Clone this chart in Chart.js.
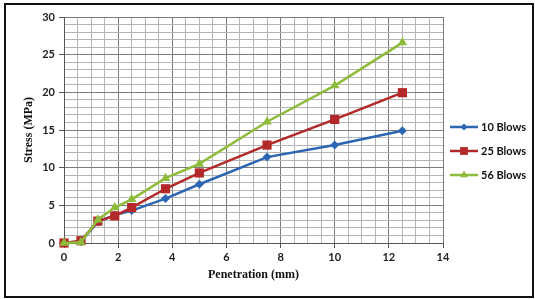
<!DOCTYPE html>
<html>
<head>
<meta charset="utf-8">
<script src="https://cdn.jsdelivr.net/npm/chart.js@4/dist/chart.umd.min.js"></script>
<style>
html,body{margin:0;padding:0;background:#fff;}
#wrap{position:relative;width:535px;height:299px;}
canvas{position:absolute;left:0;top:0;}
</style>
</head>
<body>
<div id="wrap"><canvas id="c" width="535" height="299"></canvas></div>
<script>
// Data
const penetration = [0, 0.625, 1.25, 1.875, 2.5, 3.75, 5, 7.5, 10, 12.5];
const blows10 = [0, 0.2, 2.8, 3.7, 4.3, 5.9, 7.8, 11.4, 13.0, 14.9];
const blows25 = [0, 0.3, 2.9, 3.6, 4.7, 7.2, 9.3, 13.0, 16.4, 19.95];
const blows56 = [0, 0.1, 3.1, 4.7, 5.8, 8.6, 10.5, 16.1, 20.9, 26.6];
const seriesNames = ['10 Blows', '25 Blows', '56 Blows'];
const xTitle = 'Penetration (mm)';
const yTitle = 'Stress (MPa)';

const colors = ['#2c66b3', '#b32828', '#8dbb3a'];
const styles = ['rectRot', 'rect', 'triangle'];
const radii = [4.5, 6.5, 5.5];

function pts(ys){ return penetration.map((x,i)=>({x:x,y:ys[i]})); }

const datasets = [blows10, blows25, blows56].map((ys,i)=>({
  label: seriesNames[i],
  data: pts(ys),
  borderColor: colors[i],
  backgroundColor: colors[i],
  borderWidth: 2.5,
  pointStyle: styles[i],
  pointRadius: radii[i],
  pointBorderWidth: 0,
  pointBackgroundColor: colors[i],
  tension: 0,
  clip: false,
  order: 2 - i
}));

const frame = {
  id: 'frame',
  beforeDraw(chart){
    const ctx = chart.ctx;
    ctx.save();
    ctx.fillStyle = '#fff';
    ctx.fillRect(0,0,chart.width,chart.height);
    ctx.restore();
  },
  afterDraw(chart){
    const ctx = chart.ctx;
    ctx.save();
    ctx.strokeStyle = '#111';
    ctx.lineWidth = 2;
    ctx.strokeRect(5, 4, 528, 293);
    // legend
    const items = chart.data.datasets;
    const ys = [127, 151, 175];
    const lradii = [3.5, 5.5, 4.5];
    items.forEach((ds,i)=>{
      const y = ys[i];
      ctx.strokeStyle = ds.borderColor;
      ctx.lineWidth = 2.5;
      ctx.beginPath();
      ctx.moveTo(450, y); ctx.lineTo(478, y);
      ctx.stroke();
      ctx.fillStyle = ds.backgroundColor;
      ctx.strokeStyle = ds.borderColor;
      ctx.lineWidth = 0.01;
      Chart.helpers.drawPoint(ctx, {pointStyle: ds.pointStyle, radius: lradii[i], rotation: 0, borderWidth: 0}, 464, y);
      ctx.fillStyle = '#111';
      ctx.font = 'bold 11px Lato';
      ctx.textBaseline = 'middle';
      ctx.textAlign = 'left';
      ctx.fillText(ds.label, 481, y);
    });
    ctx.restore();
  }
};

new Chart(document.getElementById('c'), {
  type: 'line',
  data: { datasets },
  options: {
    responsive: false,
    animation: false,
    devicePixelRatio: 1,
    layout: { padding: { left: 22, right: 92, top: 17, bottom: 15 } },
    plugins: { legend: { display: false }, tooltip: { enabled: false } },
    scales: {
      x: {
        type: 'linear', min: 0, max: 14,
        afterFit(s){ s.height = 41; },
        border: { color: '#555', width: 1 },
        ticks: {
          stepSize: 0.5, autoSkip: false, maxRotation: 0, padding: 3,
          color: '#222', font: { family: 'Lato', weight: 'bold', size: 11 },
          callback: v => (Math.abs(v % 2) < 1e-9 ? String(v) : '')
        },
        grid: {
          drawTicks: true, tickLength: 5,
          color: c => (Math.abs(c.tick.value % 2) < 1e-9 ? '#7c7c7c' : '#b5b5b5'),
          tickColor: c => (Math.abs(c.tick.value % 2) < 1e-9 ? '#555' : 'rgba(0,0,0,0)'),
          lineWidth: 1
        },
        title: {
          display: true, text: xTitle, color: '#111',
          font: { family: 'Liberation Serif', weight: 'bold', size: 12 },
          padding: { top: 0, bottom: 2 }
        }
      },
      y: {
        type: 'linear', min: 0, max: 30,
        afterFit(s){ s.width = 42; },
        border: { color: '#555', width: 1 },
        ticks: {
          stepSize: 1, autoSkip: false, padding: 4,
          color: '#222', font: { family: 'Lato', weight: 'bold', size: 11 },
          callback: v => (v % 5 === 0 ? String(v) : '')
        },
        grid: {
          drawTicks: true, tickLength: 5,
          color: c => (c.tick.value % 5 === 0 ? '#7c7c7c' : '#b5b5b5'),
          tickColor: c => (c.tick.value % 5 === 0 ? '#555' : 'rgba(0,0,0,0)'),
          lineWidth: 1
        },
        title: {
          display: true, text: yTitle, color: '#111',
          font: { family: 'Liberation Serif', weight: 'bold', size: 12 },
          padding: { top: 0, bottom: 0 }
        }
      }
    }
  },
  plugins: [frame]
});
</script>
</body>
</html>
